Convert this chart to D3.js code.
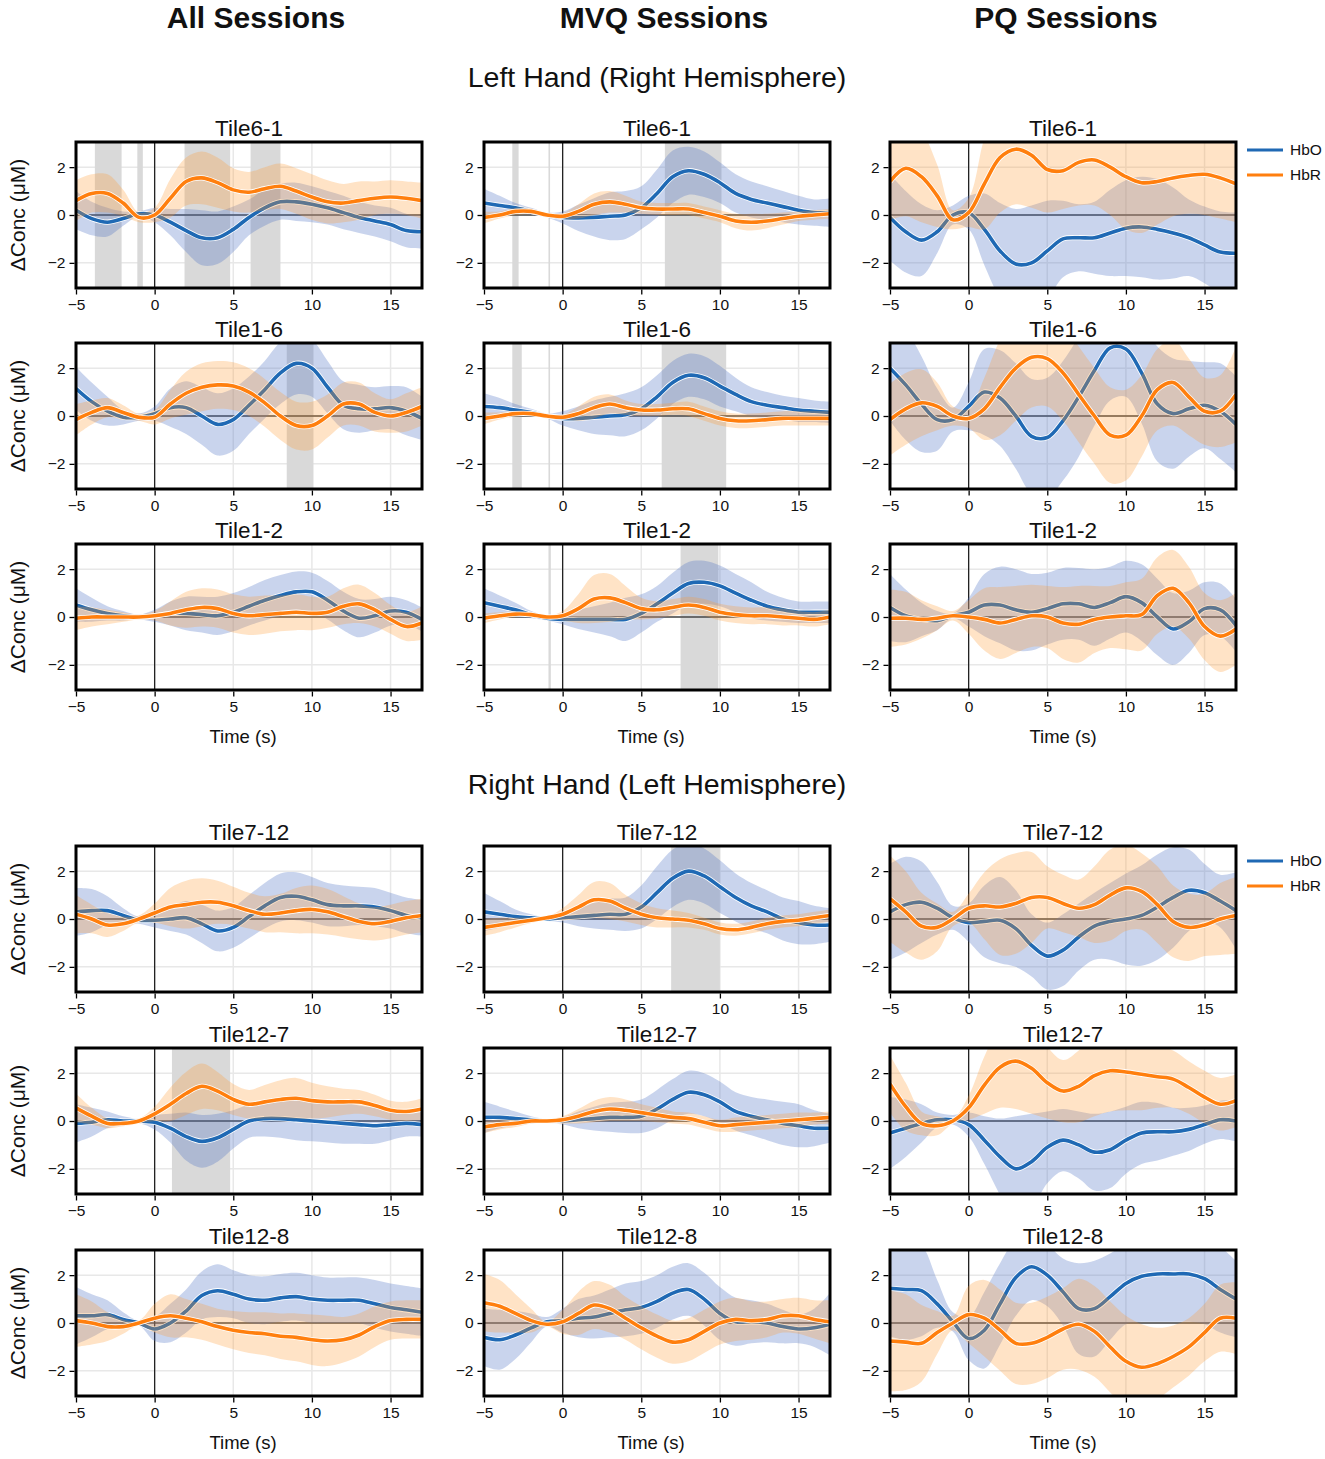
<!DOCTYPE html>
<html><head><meta charset="utf-8">
<script src="https://cdn.jsdelivr.net/npm/d3@7"></script>
<style>body{margin:0;background:#fff} svg{display:block} text{font-family:"Liberation Sans",Arial,sans-serif;fill:#111}</style>
</head><body><svg id="chart" width="1325" height="1459"></svg>
<script>
// ---------- categories / ticks ----------
const timeS = [-5,-4,-3,-2,-1,0,1,2,3,4,5,6,7,8,9,10,11,12,13,14,15,16,17];
const sessions = ["All Sessions","MVQ Sessions","PQ Sessions"];
const sections = ["Left Hand (Right Hemisphere)","Right Hand (Left Hemisphere)"];
const tilesLeft = ["Tile6-1","Tile1-6","Tile1-2"];
const tilesRight = ["Tile7-12","Tile12-7","Tile12-8"];
const xTicks = [-5,0,5,10,15];
const yTicks = [-2,0,2];
const seriesNames = ["HbO","HbR"];

// ---------- Left hand: Tile6-1 ----------
const allT61HbO   = [0.2,-0.15,-0.3,-0.15,0.05,0.0,-0.3,-0.65,-0.95,-0.95,-0.6,-0.1,0.3,0.55,0.55,0.45,0.3,0.1,-0.1,-0.25,-0.4,-0.65,-0.7];
const allT61HbOci = [0.8,0.7,0.6,0.3,0.1,0.3,0.55,0.9,1.15,1.1,0.95,0.75,0.75,0.75,0.8,0.75,0.7,0.7,0.65,0.65,0.7,0.7,0.7];
const allT61HbR   = [0.6,0.9,0.9,0.5,-0.1,0.0,0.7,1.4,1.55,1.35,1.05,0.95,1.1,1.2,1.0,0.75,0.55,0.5,0.6,0.7,0.75,0.7,0.6];
const allT61HbRci = [0.85,0.8,0.8,0.55,0.2,0.3,0.8,1.0,1.1,1.05,0.9,0.85,0.9,0.95,0.95,0.95,0.9,0.8,0.8,0.7,0.7,0.7,0.75];
const allT61Sig   = [[-3.8,-2.1],[-1.1,-0.75],[1.9,4.8],[6.1,8.0]];

const mvqT61HbO   = [0.5,0.4,0.3,0.15,0.0,-0.1,-0.12,-0.1,-0.05,0.0,0.3,0.9,1.6,1.85,1.7,1.35,0.9,0.65,0.5,0.35,0.2,0.1,0.1];
const mvqT61HbOci = [0.6,0.4,0.2,0.15,0.1,0.25,0.55,0.8,1.0,1.0,0.9,1.0,1.1,1.0,0.95,0.85,0.8,0.75,0.7,0.65,0.6,0.55,0.6];
const mvqT61HbR   = [-0.1,0.0,0.15,0.15,0.0,-0.05,0.15,0.45,0.55,0.45,0.3,0.25,0.25,0.25,0.1,-0.05,-0.25,-0.3,-0.25,-0.15,-0.05,0.0,0.05];
const mvqT61HbRci = [0.25,0.15,0.15,0.12,0.08,0.12,0.3,0.45,0.45,0.35,0.25,0.25,0.25,0.25,0.25,0.25,0.3,0.35,0.3,0.25,0.2,0.2,0.2];
const mvqT61Sig   = [[-3.2,-2.8],[-0.9,-0.8],[6.5,10.1]];

const pqT61HbO    = [-0.1,-0.7,-1.05,-0.7,0.0,0.1,-0.6,-1.5,-2.05,-2.0,-1.5,-1.0,-0.95,-0.95,-0.75,-0.55,-0.5,-0.6,-0.75,-0.95,-1.25,-1.55,-1.6];
const pqT61HbOci  = [1.8,1.7,1.5,0.9,0.4,0.7,1.5,2.0,2.3,2.4,2.1,1.6,1.4,1.5,1.8,2.0,2.1,2.1,1.9,1.6,1.6,1.7,1.7];
const pqT61HbR    = [1.4,1.95,1.6,0.8,-0.2,0.1,1.3,2.4,2.75,2.5,1.9,1.85,2.2,2.3,2.0,1.6,1.35,1.4,1.55,1.65,1.7,1.55,1.3];
const pqT61HbRci  = [1.6,2.0,1.9,1.3,0.4,0.6,1.9,2.3,2.3,2.2,1.8,1.6,1.8,1.9,2.0,2.2,2.1,1.8,1.6,1.6,1.7,1.7,1.6];
const pqT61Sig    = [];

// ---------- Left hand: Tile1-6 ----------
const allT16HbO   = [1.15,0.6,0.2,-0.05,-0.05,0.1,0.35,0.35,0.0,-0.35,-0.15,0.45,1.1,1.8,2.2,2.0,1.2,0.45,0.3,0.3,0.35,0.2,-0.1];
const allT16HbOci = [0.9,0.8,0.6,0.3,0.15,0.3,0.8,1.1,1.2,1.3,1.3,1.2,1.2,1.3,1.3,1.2,1.1,1.0,1.0,0.9,0.9,1.0,0.9];
const allT16HbR   = [-0.15,0.15,0.35,0.15,-0.05,-0.05,0.5,0.95,1.2,1.3,1.25,1.0,0.55,0.0,-0.4,-0.4,0.0,0.5,0.5,0.15,0.0,0.15,0.4];
const allT16HbRci = [0.65,0.5,0.4,0.3,0.15,0.3,0.6,0.9,1.0,1.0,1.0,1.0,1.0,1.0,1.0,1.0,0.9,0.9,0.9,0.8,0.7,0.8,0.8];
const allT16Sig   = [[8.4,10.1]];

const mvqT16HbO   = [0.4,0.35,0.25,0.15,0.0,-0.1,-0.1,-0.05,0.0,0.05,0.3,0.8,1.4,1.7,1.6,1.25,0.9,0.6,0.45,0.35,0.25,0.2,0.15];
const mvqT16HbOci = [0.55,0.4,0.25,0.15,0.1,0.3,0.5,0.7,0.8,0.9,0.9,0.9,0.9,0.9,0.9,0.85,0.7,0.6,0.55,0.5,0.5,0.45,0.45];
const mvqT16HbR   = [-0.1,0.0,0.1,0.1,0.0,-0.05,0.1,0.35,0.5,0.35,0.25,0.25,0.3,0.3,0.1,-0.1,-0.2,-0.2,-0.15,-0.1,-0.1,-0.1,-0.1];
const mvqT16HbRci = [0.25,0.15,0.12,0.1,0.08,0.1,0.3,0.45,0.4,0.3,0.25,0.25,0.25,0.3,0.3,0.3,0.3,0.3,0.3,0.3,0.3,0.3,0.3];
const mvqT16Sig   = [[-3.2,-2.6],[-0.9,-0.8],[6.3,10.4]];

const pqT16HbO    = [2.0,1.3,0.5,-0.15,-0.15,0.4,1.0,0.75,0.0,-0.85,-0.9,-0.2,0.8,1.9,2.85,2.8,1.8,0.5,0.1,0.3,0.45,0.2,-0.35];
const pqT16HbOci  = [2.2,2.3,2.0,1.3,0.5,1.0,1.8,2.0,2.2,2.4,2.5,2.5,2.5,2.3,2.2,2.0,2.1,2.4,2.3,2.0,1.8,2.0,2.0];
const pqT16HbR    = [-0.15,0.3,0.55,0.4,0.0,-0.1,0.3,1.2,2.0,2.45,2.4,1.8,0.9,0.0,-0.8,-0.8,0.0,1.1,1.4,0.8,0.2,0.2,0.9];
const pqT16HbRci  = [1.5,1.5,1.4,1.0,0.4,0.4,1.3,2.0,2.2,2.1,2.0,2.0,2.0,2.0,2.0,1.9,1.7,1.7,1.8,1.6,1.4,1.5,2.0];
const pqT16Sig    = [];

// ---------- Left hand: Tile1-2 ----------
const allT12HbO   = [0.5,0.3,0.15,0.05,0.0,0.05,0.15,0.15,0.1,0.05,0.2,0.45,0.7,0.9,1.05,1.05,0.7,0.25,-0.05,0.05,0.25,0.2,-0.1];
const allT12HbOci = [0.7,0.5,0.3,0.2,0.1,0.25,0.5,0.7,0.75,0.8,0.8,0.8,0.85,0.85,0.85,0.8,0.8,0.8,0.8,0.7,0.6,0.5,0.5];
const allT12HbR   = [-0.05,0.0,0.0,0.0,0.0,0.05,0.15,0.3,0.4,0.35,0.15,0.05,0.1,0.15,0.2,0.15,0.2,0.45,0.55,0.3,-0.1,-0.4,-0.25];
const allT12HbRci = [0.5,0.4,0.3,0.2,0.1,0.2,0.5,0.75,0.8,0.8,0.8,0.8,0.8,0.75,0.75,0.7,0.65,0.75,0.8,0.7,0.6,0.6,0.7];
const allT12Sig   = [];

const mvqT12HbO   = [0.6,0.45,0.3,0.1,-0.05,-0.1,-0.1,-0.1,-0.1,-0.1,0.15,0.55,1.0,1.4,1.45,1.3,1.0,0.7,0.45,0.3,0.2,0.2,0.2];
const mvqT12HbOci = [0.6,0.45,0.3,0.15,0.1,0.2,0.4,0.55,0.7,0.9,0.8,0.75,0.85,0.9,0.9,0.85,0.8,0.75,0.6,0.5,0.45,0.45,0.45];
const mvqT12HbR   = [-0.05,0.05,0.12,0.1,0.0,0.05,0.35,0.75,0.8,0.6,0.35,0.3,0.4,0.5,0.4,0.2,0.1,0.05,0.05,0.0,-0.05,-0.1,0.0];
const mvqT12HbRci = [0.2,0.15,0.12,0.1,0.05,0.2,0.6,1.0,1.0,0.7,0.45,0.35,0.35,0.35,0.35,0.35,0.35,0.35,0.35,0.35,0.3,0.3,0.3];
const mvqT12Sig   = [[-0.9,-0.75],[7.5,9.9]];

const pqT12HbO    = [0.4,0.05,-0.1,-0.15,0.05,0.2,0.5,0.5,0.3,0.2,0.35,0.55,0.55,0.4,0.6,0.85,0.6,0.0,-0.5,-0.2,0.35,0.3,-0.35];
const pqT12HbOci  = [1.4,1.1,0.7,0.4,0.1,0.6,1.3,1.6,1.7,1.6,1.5,1.5,1.5,1.6,1.5,1.5,1.6,1.6,1.5,1.3,1.1,1.1,1.1];
const pqT12HbR    = [-0.05,-0.05,-0.1,-0.05,0.05,0.0,-0.1,-0.25,-0.1,0.05,0.0,-0.25,-0.3,-0.1,0.0,0.05,0.1,0.9,1.2,0.6,-0.4,-0.8,-0.5];
const pqT12HbRci  = [1.2,1.1,0.8,0.5,0.2,0.7,1.3,1.5,1.4,1.3,1.3,1.5,1.6,1.4,1.3,1.4,1.5,1.6,1.6,1.5,1.4,1.5,1.5];
const pqT12Sig    = [];

// ---------- Right hand: Tile7-12 ----------
const allT712HbO   = [0.3,0.35,0.35,0.15,-0.05,-0.05,0.0,0.05,-0.2,-0.5,-0.35,0.1,0.55,0.9,0.95,0.8,0.6,0.55,0.55,0.5,0.35,0.15,0.05];
const allT712HbOci = [1.0,0.9,0.6,0.3,0.15,0.3,0.5,0.7,0.8,0.85,0.85,0.9,0.95,1.0,1.0,0.95,0.9,0.85,0.8,0.8,0.75,0.75,0.75];
const allT712HbR   = [0.2,0.0,-0.25,-0.2,0.0,0.25,0.5,0.6,0.7,0.7,0.55,0.35,0.2,0.25,0.35,0.4,0.3,0.1,-0.1,-0.2,-0.1,0.05,0.15];
const allT712HbRci = [0.8,0.6,0.5,0.3,0.15,0.4,0.8,1.0,1.0,0.9,0.8,0.75,0.75,0.8,0.95,1.0,0.95,0.85,0.75,0.7,0.7,0.7,0.7];
const allT712Sig   = [];

const mvqT712HbO   = [0.3,0.2,0.1,0.05,0.0,0.05,0.1,0.15,0.2,0.2,0.5,1.1,1.7,2.0,1.8,1.35,0.9,0.55,0.3,0.0,-0.15,-0.25,-0.25];
const mvqT712HbOci = [0.8,0.55,0.3,0.15,0.08,0.2,0.4,0.55,0.65,0.7,0.9,1.1,1.2,1.2,1.15,1.1,1.0,0.95,0.9,0.9,0.9,0.8,0.7];
const mvqT712HbR   = [-0.35,-0.25,-0.15,-0.05,0.05,0.2,0.5,0.8,0.75,0.45,0.2,0.05,0.0,-0.05,-0.2,-0.4,-0.45,-0.35,-0.2,-0.1,-0.05,0.05,0.15];
const mvqT712HbRci = [0.35,0.3,0.2,0.12,0.05,0.25,0.5,0.75,0.75,0.55,0.45,0.4,0.35,0.3,0.25,0.25,0.25,0.25,0.25,0.25,0.25,0.25,0.25];
const mvqT712Sig   = [[6.9,10.0]];

const pqT712HbO    = [0.3,0.6,0.7,0.45,0.05,-0.15,-0.1,-0.05,-0.4,-1.1,-1.55,-1.3,-0.75,-0.3,-0.1,0.0,0.15,0.5,0.9,1.2,1.1,0.75,0.35];
const pqT712HbOci  = [2.0,2.0,1.7,1.1,0.5,0.8,1.5,1.8,1.6,1.3,1.4,1.5,1.4,1.4,1.6,1.9,2.1,2.2,2.1,1.7,1.2,1.1,1.6];
const pqT712HbR    = [0.85,0.3,-0.3,-0.35,0.0,0.45,0.55,0.5,0.65,0.9,0.9,0.65,0.45,0.6,1.0,1.3,1.15,0.6,-0.1,-0.35,-0.25,0.0,0.15];
const pqT712HbRci  = [1.8,1.7,1.4,1.0,0.3,0.6,1.4,2.0,2.1,1.9,1.3,1.2,1.2,1.6,1.9,1.8,1.6,1.6,1.5,1.4,1.3,1.5,1.6];
const pqT712Sig    = [];

// ---------- Right hand: Tile12-7 ----------
const allT127HbO   = [-0.1,-0.05,0.05,0.0,0.0,-0.05,-0.3,-0.65,-0.85,-0.7,-0.35,0.0,0.1,0.1,0.05,0.0,-0.05,-0.1,-0.15,-0.2,-0.15,-0.1,-0.15];
const allT127HbOci = [0.8,0.6,0.35,0.2,0.1,0.3,0.6,1.0,1.1,1.0,0.8,0.7,0.75,0.8,0.85,0.85,0.85,0.85,0.8,0.75,0.65,0.55,0.5];
const allT127HbR   = [0.55,0.2,-0.1,-0.1,0.0,0.3,0.7,1.15,1.45,1.25,0.9,0.7,0.8,0.9,0.95,0.85,0.8,0.8,0.8,0.65,0.45,0.4,0.5];
const allT127HbRci = [0.6,0.35,0.2,0.12,0.1,0.3,0.7,0.9,0.95,0.8,0.65,0.6,0.7,0.8,0.85,0.75,0.65,0.55,0.5,0.45,0.4,0.4,0.45];
const allT127Sig   = [[1.1,4.8]];

const mvqT127HbO   = [0.15,0.15,0.1,0.05,0.0,0.0,0.05,0.1,0.15,0.15,0.2,0.5,0.9,1.2,1.1,0.8,0.4,0.2,0.05,-0.1,-0.2,-0.3,-0.3];
const mvqT127HbOci = [0.65,0.45,0.3,0.15,0.08,0.15,0.35,0.5,0.6,0.65,0.7,0.8,0.85,0.9,0.9,0.85,0.8,0.8,0.85,0.9,0.9,0.75,0.6];
const mvqT127HbR   = [-0.25,-0.15,-0.1,0.0,0.0,0.05,0.2,0.4,0.5,0.45,0.35,0.25,0.15,0.1,-0.05,-0.2,-0.15,-0.1,-0.05,0.0,0.05,0.1,0.15];
const mvqT127HbRci = [0.25,0.2,0.15,0.1,0.05,0.15,0.3,0.45,0.5,0.45,0.35,0.3,0.25,0.25,0.25,0.25,0.3,0.3,0.3,0.3,0.3,0.25,0.25];
const mvqT127Sig   = [];

const pqT127HbO    = [-0.5,-0.3,-0.1,0.05,0.05,-0.15,-0.8,-1.5,-2.0,-1.7,-1.1,-0.8,-1.0,-1.3,-1.2,-0.8,-0.5,-0.45,-0.45,-0.35,-0.15,0.05,0.0];
const pqT127HbOci  = [1.5,1.2,0.8,0.3,0.2,0.5,1.0,1.6,2.2,2.0,1.5,1.3,1.4,1.6,1.6,1.4,1.3,1.2,1.0,0.9,0.8,0.8,0.85];
const pqT127HbR    = [1.55,0.6,-0.1,-0.2,0.0,0.55,1.5,2.25,2.5,2.2,1.6,1.25,1.45,1.9,2.1,2.05,1.95,1.85,1.75,1.4,1.0,0.7,0.85];
const pqT127HbRci  = [1.2,1.0,0.5,0.4,0.1,0.5,1.2,1.7,2.0,1.9,1.5,1.3,1.5,1.7,1.7,1.6,1.5,1.3,1.2,1.1,1.1,1.1,1.1];
const pqT127Sig    = [];

// ---------- Right hand: Tile12-8 ----------
const allT128HbO   = [0.3,0.3,0.35,0.15,0.0,-0.25,0.0,0.5,1.15,1.35,1.2,1.0,0.95,1.05,1.1,1.0,0.95,0.95,0.95,0.8,0.65,0.55,0.45];
const allT128HbOci = [1.2,0.9,0.6,0.3,0.1,0.5,0.8,0.9,1.0,1.1,1.0,1.0,1.0,1.0,1.0,1.0,0.95,0.95,0.95,1.0,1.0,1.0,1.0];
const allT128HbR   = [0.1,0.0,-0.15,-0.15,0.0,0.2,0.3,0.2,0.05,-0.15,-0.3,-0.4,-0.45,-0.55,-0.6,-0.7,-0.75,-0.7,-0.5,-0.15,0.1,0.15,0.15];
const allT128HbRci = [1.1,0.9,0.6,0.3,0.1,0.6,0.9,0.8,0.75,0.75,0.8,0.85,0.9,0.95,1.0,1.05,1.05,0.95,0.9,0.85,0.8,0.8,0.8];
const allT128Sig   = [];

const mvqT128HbO   = [-0.6,-0.7,-0.5,-0.2,0.05,0.1,0.2,0.25,0.4,0.55,0.65,0.9,1.25,1.4,1.0,0.4,0.05,0.05,0.0,-0.15,-0.25,-0.2,-0.05];
const mvqT128HbOci = [1.2,1.25,1.0,0.6,0.2,0.5,0.8,0.9,1.0,1.1,1.1,1.1,1.1,1.1,1.1,1.1,1.0,0.9,0.8,0.7,0.6,0.8,1.3];
const mvqT128HbR   = [0.85,0.7,0.4,0.1,-0.05,0.05,0.4,0.75,0.6,0.2,-0.2,-0.55,-0.8,-0.7,-0.35,0.0,0.15,0.1,0.15,0.3,0.3,0.15,0.05];
const mvqT128HbRci = [1.2,1.1,0.8,0.5,0.1,0.5,0.9,1.0,1.0,0.9,0.9,0.9,0.9,0.9,0.9,0.9,0.9,0.8,0.75,0.7,0.75,0.8,0.9];
const mvqT128Sig   = [];

const pqT128HbO    = [1.45,1.4,1.35,0.8,0.05,-0.65,-0.3,0.8,1.9,2.35,2.0,1.3,0.6,0.6,1.1,1.65,1.95,2.05,2.05,2.05,1.85,1.4,1.0];
const pqT128HbOci  = [2.0,2.1,1.9,1.0,0.4,0.9,1.6,1.7,1.6,1.4,1.3,1.4,1.9,2.0,1.8,1.7,1.9,2.0,2.0,2.0,1.9,1.8,1.6];
const pqT128HbR    = [-0.75,-0.8,-0.85,-0.4,0.0,0.35,0.2,-0.3,-0.85,-0.85,-0.6,-0.25,-0.05,-0.35,-1.0,-1.6,-1.85,-1.7,-1.4,-1.0,-0.4,0.2,0.2];
const pqT128HbRci  = [2.1,2.0,1.6,0.9,0.3,1.2,1.6,1.7,1.7,1.7,1.7,1.7,1.9,1.9,1.9,1.9,1.8,1.5,1.3,1.2,1.2,1.4,1.5];
const pqT128Sig    = [];

// ---------- panel table built from the arrays ----------
const panels = [
  {row:0,col:0,title:tilesLeft[0], hbo:allT61HbO, hboCi:allT61HbOci, hbr:allT61HbR, hbrCi:allT61HbRci, sig:allT61Sig},
  {row:0,col:1,title:tilesLeft[0], hbo:mvqT61HbO, hboCi:mvqT61HbOci, hbr:mvqT61HbR, hbrCi:mvqT61HbRci, sig:mvqT61Sig},
  {row:0,col:2,title:tilesLeft[0], hbo:pqT61HbO,  hboCi:pqT61HbOci,  hbr:pqT61HbR,  hbrCi:pqT61HbRci,  sig:pqT61Sig},
  {row:1,col:0,title:tilesLeft[1], hbo:allT16HbO, hboCi:allT16HbOci, hbr:allT16HbR, hbrCi:allT16HbRci, sig:allT16Sig},
  {row:1,col:1,title:tilesLeft[1], hbo:mvqT16HbO, hboCi:mvqT16HbOci, hbr:mvqT16HbR, hbrCi:mvqT16HbRci, sig:mvqT16Sig},
  {row:1,col:2,title:tilesLeft[1], hbo:pqT16HbO,  hboCi:pqT16HbOci,  hbr:pqT16HbR,  hbrCi:pqT16HbRci,  sig:pqT16Sig},
  {row:2,col:0,title:tilesLeft[2], hbo:allT12HbO, hboCi:allT12HbOci, hbr:allT12HbR, hbrCi:allT12HbRci, sig:allT12Sig},
  {row:2,col:1,title:tilesLeft[2], hbo:mvqT12HbO, hboCi:mvqT12HbOci, hbr:mvqT12HbR, hbrCi:mvqT12HbRci, sig:mvqT12Sig},
  {row:2,col:2,title:tilesLeft[2], hbo:pqT12HbO,  hboCi:pqT12HbOci,  hbr:pqT12HbR,  hbrCi:pqT12HbRci,  sig:pqT12Sig},
  {row:3,col:0,title:tilesRight[0], hbo:allT712HbO, hboCi:allT712HbOci, hbr:allT712HbR, hbrCi:allT712HbRci, sig:allT712Sig},
  {row:3,col:1,title:tilesRight[0], hbo:mvqT712HbO, hboCi:mvqT712HbOci, hbr:mvqT712HbR, hbrCi:mvqT712HbRci, sig:mvqT712Sig},
  {row:3,col:2,title:tilesRight[0], hbo:pqT712HbO,  hboCi:pqT712HbOci,  hbr:pqT712HbR,  hbrCi:pqT712HbRci,  sig:pqT712Sig},
  {row:4,col:0,title:tilesRight[1], hbo:allT127HbO, hboCi:allT127HbOci, hbr:allT127HbR, hbrCi:allT127HbRci, sig:allT127Sig},
  {row:4,col:1,title:tilesRight[1], hbo:mvqT127HbO, hboCi:mvqT127HbOci, hbr:mvqT127HbR, hbrCi:mvqT127HbRci, sig:mvqT127Sig},
  {row:4,col:2,title:tilesRight[1], hbo:pqT127HbO,  hboCi:pqT127HbOci,  hbr:pqT127HbR,  hbrCi:pqT127HbRci,  sig:pqT127Sig},
  {row:5,col:0,title:tilesRight[2], hbo:allT128HbO, hboCi:allT128HbOci, hbr:allT128HbR, hbrCi:allT128HbRci, sig:allT128Sig},
  {row:5,col:1,title:tilesRight[2], hbo:mvqT128HbO, hboCi:mvqT128HbOci, hbr:mvqT128HbR, hbrCi:mvqT128HbRci, sig:mvqT128Sig},
  {row:5,col:2,title:tilesRight[2], hbo:pqT128HbO,  hboCi:pqT128HbOci,  hbr:pqT128HbR,  hbrCi:pqT128HbRci,  sig:pqT128Sig}
];

// ---------- layout & style ----------
const colLeft = [76, 484, 890];
const rowTop = [142, 343, 544, 846, 1048, 1250];
const pw = 346, ph = 146;
const colHeadX = [256, 664, 1066];
const HBO = "#1f69b4", HBR = "#ff7f0e";
const HBO_BAND = "#4c72c4", HBR_BAND = "#ff9933";
const FONT = '"Liberation Sans",Arial,sans-serif';

const svg = d3.select("#chart");
const defs = svg.append("defs");

// column headers
svg.selectAll("text.colhead").data(sessions).join("text")
  .attr("class","colhead").attr("x",(d,i)=>colHeadX[i]).attr("y",28)
  .attr("text-anchor","middle").attr("font-size",30).attr("font-weight","bold").text(d=>d);
// section titles
svg.selectAll("text.section").data(sections).join("text")
  .attr("class","section").attr("x",657).attr("y",(d,i)=>i===0?87:794)
  .attr("text-anchor","middle").attr("font-size",28.5).text(d=>d);

const curve = d3.curveCatmullRom.alpha(0.5);

panels.forEach((p, idx) => {
  const x0 = colLeft[p.col], y0 = rowTop[p.row];
  const x = d3.scaleLinear().domain([-5,17]).range([x0, x0+pw]);
  const y = d3.scaleLinear().domain([-3.05,3.05]).range([y0+ph, y0]);
  const g = svg.append("g");
  const cid = "clip" + idx;
  defs.append("clipPath").attr("id",cid).append("rect")
    .attr("x",x0).attr("y",y0).attr("width",pw).attr("height",ph);
  const inner = g.append("g").attr("clip-path",`url(#${cid})`);

  // grid
  inner.selectAll("line.gx").data(xTicks).join("line")
    .attr("x1",d=>x(d)).attr("x2",d=>x(d)).attr("y1",y0).attr("y2",y0+ph)
    .attr("stroke","#e8e8e8").attr("stroke-width",1.5);
  inner.selectAll("line.gy").data(yTicks).join("line")
    .attr("y1",d=>y(d)).attr("y2",d=>y(d)).attr("x1",x0).attr("x2",x0+pw)
    .attr("stroke","#e8e8e8").attr("stroke-width",1.5);

  // significance shading
  inner.selectAll("rect.sig").data(p.sig).join("rect")
    .attr("x",d=>x(d[0])).attr("width",d=>x(d[1])-x(d[0]))
    .attr("y",y0).attr("height",ph).attr("fill","#d9d9d9");

  // zero lines
  inner.append("line").attr("x1",x0).attr("x2",x0+pw).attr("y1",y(0)).attr("y2",y(0))
    .attr("stroke","#444").attr("stroke-width",1.3);
  inner.append("line").attr("x1",x(0)).attr("x2",x(0)).attr("y1",y0).attr("y2",y0+ph)
    .attr("stroke","#222").attr("stroke-width",1.3);

  const drawSeries = (m, ci, lineCol, bandCol, op) => {
    const area = d3.area().curve(curve)
      .x((d,i)=>x(timeS[i])).y0((d,i)=>y(m[i]-ci[i])).y1((d,i)=>y(m[i]+ci[i]));
    inner.append("path").datum(m).attr("d",area).attr("fill",bandCol).attr("fill-opacity",op);
    const line = d3.line().curve(curve).x((d,i)=>x(timeS[i])).y(d=>y(d));
    inner.append("path").datum(m).attr("d",line).attr("fill","none")
      .attr("stroke","#fff").attr("stroke-width",5.2).attr("stroke-linejoin","round");
    inner.append("path").datum(m).attr("d",line).attr("fill","none")
      .attr("stroke",lineCol).attr("stroke-width",3.6).attr("stroke-linejoin","round");
  };
  drawSeries(p.hbo, p.hboCi, HBO, HBO_BAND, 0.3);
  drawSeries(p.hbr, p.hbrCi, HBR, HBR_BAND, 0.28);

  // frame
  g.append("rect").attr("x",x0).attr("y",y0).attr("width",pw).attr("height",ph)
    .attr("fill","none").attr("stroke","#000").attr("stroke-width",3);

  // axes
  const xa = g.append("g").attr("transform",`translate(0,${y0+ph+1.5})`)
    .call(d3.axisBottom(x).tickValues(xTicks).tickFormat(d3.format("d")).tickSize(5).tickPadding(4));
  const ya = g.append("g").attr("transform",`translate(${x0-1.5},0)`)
    .call(d3.axisLeft(y).tickValues(yTicks).tickFormat(d3.format("d")).tickSize(5).tickPadding(4));
  [xa, ya].forEach(a => {
    a.attr("font-size",15.5).attr("font-family",FONT);
    a.select(".domain").remove();
    a.selectAll("line").attr("stroke","#000").attr("stroke-width",1.3);
    a.selectAll("text").attr("font-size",15.5).attr("font-family",FONT).attr("fill","#111");
  });

  // panel title
  g.append("text").attr("x",x0+pw/2).attr("y",y0-6).attr("text-anchor","middle")
    .attr("font-size",22.5).text(p.title);

  // y label
  if (p.col === 0) {
    g.append("text").attr("transform",`translate(25,${y0+ph/2}) rotate(-90)`)
      .attr("text-anchor","middle").attr("font-size",21).text("ΔConc (μM)");
  }
  // x label
  if (p.row === 2 || p.row === 5) {
    g.append("text").attr("x",x0+pw/2 - (p.col<2?6:0)).attr("y",y0+ph+53).attr("text-anchor","middle")
      .attr("font-size",18.5).text("Time (s)");
  }
  // legend
  if (p.col === 2 && (p.row === 0 || p.row === 3)) {
    const ly = p.row === 0 ? 150 : 861;
    const lg = svg.append("g");
    seriesNames.forEach((s,k) => {
      lg.append("line").attr("x1",1247).attr("x2",1283).attr("y1",ly+k*25).attr("y2",ly+k*25)
        .attr("stroke",k===0?HBO:HBR).attr("stroke-width",3);
      lg.append("text").attr("x",1290).attr("y",ly+k*25).attr("dy","0.35em")
        .attr("font-size",15.5).text(s);
    });
  }
});
</script></body></html>
